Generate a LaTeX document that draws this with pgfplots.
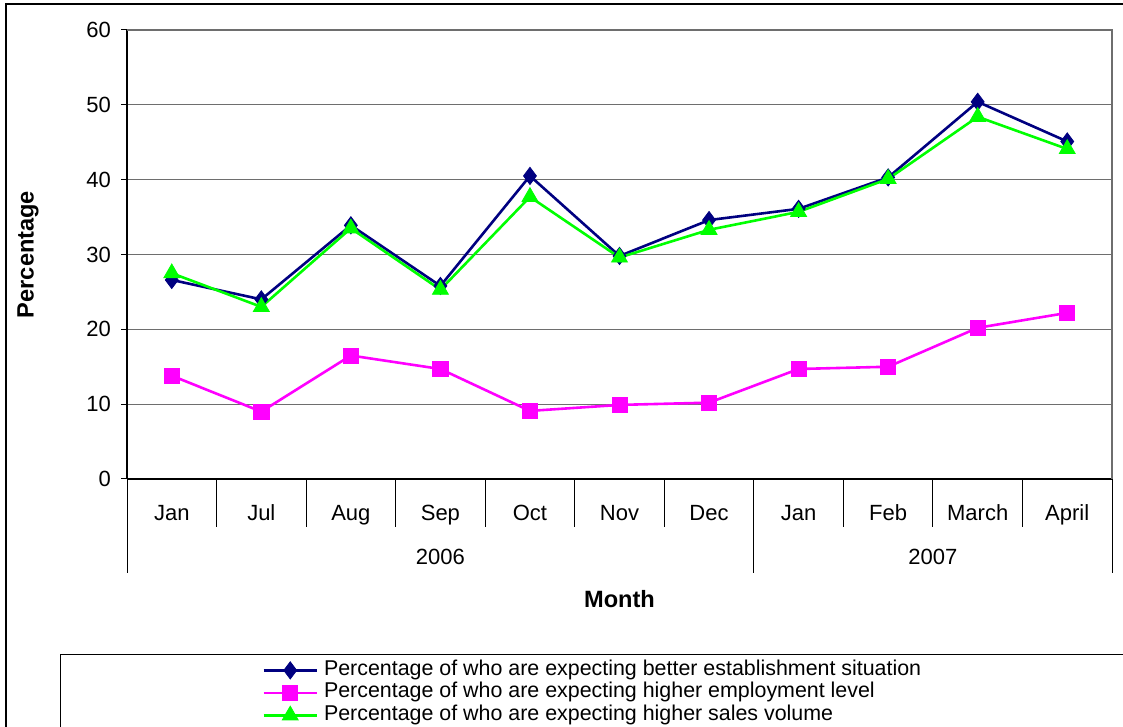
\documentclass[border=0pt]{standalone}
\usepackage{fontspec}
\setmainfont{Liberation Sans}
\usepackage{pgfplots}
\pgfplotsset{compat=1.18}
\definecolor{navyc}{RGB}{0,0,128}
\definecolor{magc}{RGB}{255,0,255}
\definecolor{grnc}{RGB}{0,255,0}
\definecolor{gridc}{RGB}{110,110,110}
\begin{document}
\begin{tikzpicture}
\useasboundingbox (0,0) rectangle (561.5pt,363.5pt);
\draw[black, line width=0.6pt] (3pt,0) -- (3pt,361.5pt) -- (561.5pt,361.5pt);
\draw[black, line width=0.5pt] (30pt,0) -- (30pt,36pt) -- (561.5pt,36pt);
\begin{axis}[
  at={(63.5pt,124pt)}, anchor=south west,
  width=492.5pt, height=224.5pt, scale only axis,
  xmin=-0.5, xmax=10.5, ymin=0, ymax=60,
  ytick={0,10,...,60},
  xtick={0,...,10},
  xticklabels={Jan,Jul,Aug,Sep,Oct,Nov,Dec,Jan,Feb,March,April},
  /pgf/number format/assume math mode=true,
  tick label style={font=\fontsize{11}{13}\selectfont},
  xticklabel style={anchor=base, yshift=-18pt},
  yticklabel style={xshift=-1.5pt},
  x tick style={draw=none},
  y tick style={black, line width=0.5pt},
  major tick length=3pt,
  tick align=outside,
  ytick pos=left,
  xtick pos=bottom,
  ymajorgrids,
  grid style={gridc, line width=0.6pt},
  axis x line*=bottom, axis y line*=left,
  axis line style={black, line width=0.7pt},
  ylabel={Percentage},
  ylabel style={font=\fontsize{11.8}{13}\selectfont\bfseries, at={(axis description cs:-0.1005,0.5)}, anchor=center},
  xlabel={Month},
  xlabel style={font=\fontsize{11.8}{13}\selectfont\bfseries, at={(axis description cs:0.5,-0.2673)}, anchor=center},
  clip=false,
  legend style={at={(axis description cs:0.1371,-0.4031)}, anchor=north west, draw=none, fill=none,
    font=\fontsize{10.7}{12}\selectfont, row sep=1.25pt, inner sep=0pt,
    nodes={inner sep=0pt, text height=7.5pt, text depth=2.5pt}},
  legend cell align=left,
  legend image code/.code={\draw[mark repeat=2,mark phase=2,#1] plot coordinates {(0pt,0pt)(13.25pt,0pt)(26.5pt,0pt)}; \path (29.5pt,0pt);},
]
\addplot[navyc, line width=1.3pt, mark=diamond*, mark size=4.3pt, mark options={fill=navyc, draw=navyc, line width=0.4pt}]
  coordinates {(0,26.6)(1,24.0)(2,33.9)(3,25.8)(4,40.5)(5,29.8)(6,34.6)(7,36.1)(8,40.3)(9,50.4)(10,45.1)};
\addlegendentry{Percentage of who are expecting better establishment situation}
\addplot[magc, line width=1.3pt, mark=square*, mark size=3.8pt, mark options={fill=magc, draw=magc, line width=0.4pt}]
  coordinates {(0,13.8)(1,9.0)(2,16.5)(3,14.7)(4,9.1)(5,9.9)(6,10.2)(7,14.7)(8,15.0)(9,20.2)(10,22.2)};
\addlegendentry{Percentage of who are expecting higher employment level}
\addplot[grnc, line width=1.3pt, mark=triangle*, mark size=4.6pt, mark options={fill=grnc, draw=grnc, line width=0.4pt}]
  coordinates {(0,27.5)(1,23.0)(2,33.5)(3,25.3)(4,37.7)(5,29.6)(6,33.3)(7,35.7)(8,40.1)(9,48.4)(10,44.1)};
\addlegendentry{Percentage of who are expecting higher sales volume}
\draw[gridc, line width=1pt] (rel axis cs:0,1) -- (rel axis cs:1,1) -- (rel axis cs:1,0);
\pgfplotsinvokeforeach{0.5,1.5,2.5,3.5,4.5,5.5,7.5,8.5,9.5}{
  \draw[black, line width=0.5pt] (axis cs:#1,0) -- ++(0pt,-24pt);
}
\pgfplotsinvokeforeach{-0.5,6.5,10.5}{
  \draw[black, line width=0.5pt] (axis cs:#1,0) -- ++(0pt,-47pt);
}
\node[font=\fontsize{11}{13}\selectfont, anchor=center, yshift=-39pt] at (axis cs:3,0) {2006};
\node[font=\fontsize{11}{13}\selectfont, anchor=center, yshift=-39pt] at (axis cs:8.5,0) {2007};
\end{axis}
\end{tikzpicture}
\end{document}
